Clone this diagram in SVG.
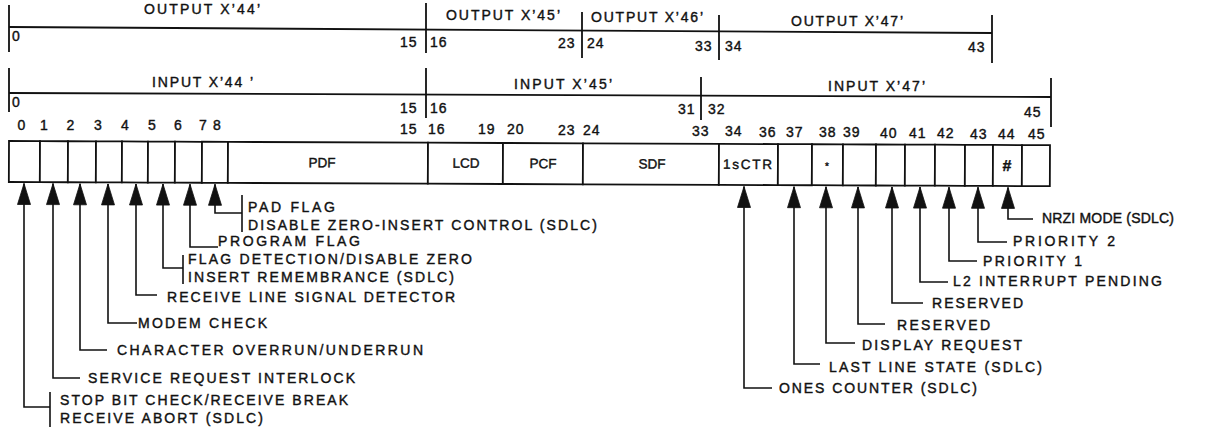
<svg xmlns="http://www.w3.org/2000/svg" width="1210" height="431" viewBox="0 0 1210 431">
<style>
.t{font-family:"Liberation Sans",Arial,sans-serif;fill:#111;stroke:#111;stroke-width:0.4}
.hd{font-size:14px}
.n{font-size:14px;letter-spacing:1px}
.d{font-size:14px;text-anchor:middle}
.l{font-size:14px}
.bx{font-size:13.5px;text-anchor:middle}
.box{fill:#fff;stroke:#111;stroke-width:1.8}
.rule{fill:none;stroke:#111;stroke-width:1.8}
.conn{fill:none;stroke:#111;stroke-width:1.6;marker-end:url(#ah)}
.brk{fill:none;stroke:#111;stroke-width:1.6}
</style>
<defs>
<marker id="ah" markerUnits="userSpaceOnUse" markerWidth="30" markerHeight="20" refX="0" refY="0" orient="auto" style="overflow:visible">
<path d="M0,0 L-21,-6.5 L-21,6.5 Z" fill="#111" stroke="#111" stroke-width="0.8" stroke-linejoin="round"/>
</marker>
</defs>
<rect width="1210" height="431" fill="#fff"/>

<g id="output-row">
<path class="rule" d="M9,27 L992,33"/>
<path class="rule" d="M9,5 V52 M426,3 V53 M582,12 V58 M719,15 V60 M992,15 V63"/>
<text class="t hd" x="144" y="14" textLength="116" lengthAdjust="spacing">OUTPUT X’44’</text>
<text class="t hd" x="446" y="20" textLength="114" lengthAdjust="spacing">OUTPUT X’45’</text>
<text class="t hd" x="591" y="22" textLength="112" lengthAdjust="spacing">OUTPUT X’46’</text>
<text class="t hd" x="791" y="26" textLength="112" lengthAdjust="spacing">OUTPUT X’47’</text>
<text class="t n" x="12" y="41">0</text>
<text class="t n" x="400" y="47">15</text>
<text class="t n" x="430" y="47">16</text>
<text class="t n" x="558" y="48">23</text>
<text class="t n" x="587" y="48">24</text>
<text class="t n" x="695" y="51">33</text>
<text class="t n" x="725" y="51">34</text>
<text class="t n" x="968" y="52">43</text>
</g>

<g id="input-row">
<path class="rule" d="M9,93 L1051,97"/>
<path class="rule" d="M9,68 V112 M426,68 V118 M701,77 V120 M1051,78 V127"/>
<text class="t hd" x="152" y="87" textLength="101" lengthAdjust="spacing">INPUT X’44 ’</text>
<text class="t hd" x="514" y="89" textLength="98" lengthAdjust="spacing">INPUT X’45’</text>
<text class="t hd" x="828" y="91" textLength="97" lengthAdjust="spacing">INPUT X’47’</text>
<text class="t n" x="12" y="107">0</text>
<text class="t n" x="400" y="113">15</text>
<text class="t n" x="430" y="113">16</text>
<text class="t n" x="678" y="114">31</text>
<text class="t n" x="708" y="114">32</text>
<text class="t n" x="1024" y="117">45</text>
</g>

<g id="bit-numbers">
<text class="t d" x="21.5" y="130">0</text>
<text class="t d" x="44" y="130">1</text>
<text class="t d" x="70.5" y="130">2</text>
<text class="t d" x="98" y="130">3</text>
<text class="t d" x="125" y="130">4</text>
<text class="t d" x="152" y="130">5</text>
<text class="t d" x="178" y="130">6</text>
<text class="t d" x="203" y="130">7</text>
<text class="t d" x="217" y="130">8</text>
<text class="t n" x="400" y="133.5">15</text>
<text class="t n" x="428" y="133.7">16</text>
<text class="t n" x="478" y="134.1">19</text>
<text class="t n" x="507" y="134.4">20</text>
<text class="t n" x="558" y="134.8">23</text>
<text class="t n" x="583" y="135">24</text>
<text class="t n" x="692" y="136">33</text>
<text class="t n" x="725" y="136.3">34</text>
<text class="t n" x="759" y="136.6">36</text>
<text class="t n" x="786" y="136.9">37</text>
<text class="t n" x="819" y="137.2">38</text>
<text class="t n" x="843" y="137.4">39</text>
<text class="t n" x="880" y="137.7">40</text>
<text class="t n" x="909" y="138">41</text>
<text class="t n" x="937" y="138.2">42</text>
<text class="t n" x="970" y="138.5">43</text>
<text class="t n" x="998" y="138.8">44</text>
<text class="t n" x="1028" y="139">45</text>
</g>

<g id="register" transform="rotate(0.23 9 141)">
<g id="bit-0"><rect class="box" x="9" y="141" width="31" height="41"/></g>
<g id="bit-1"><rect class="box" x="40" y="141" width="28" height="41"/></g>
<g id="bit-2"><rect class="box" x="68" y="141" width="28" height="41"/></g>
<g id="bit-3"><rect class="box" x="96" y="141" width="26" height="41"/></g>
<g id="bit-4"><rect class="box" x="122" y="141" width="26" height="41"/></g>
<g id="bit-5"><rect class="box" x="148" y="141" width="27" height="41"/></g>
<g id="bit-6"><rect class="box" x="175" y="141" width="27" height="41"/></g>
<g id="bit-7"><rect class="box" x="202" y="141" width="26" height="41"/></g>
<g id="pdf"><rect class="box" x="228" y="141" width="200" height="41"/><text class="t bx" x="322" y="166">PDF</text></g>
<g id="lcd"><rect class="box" x="428" y="141" width="75" height="41"/><text class="t bx" x="466" y="166">LCD</text></g>
<g id="pcf"><rect class="box" x="503" y="141" width="80" height="41"/><text class="t bx" x="543" y="166">PCF</text></g>
<g id="sdf"><rect class="box" x="583" y="141" width="136" height="41"/><text class="t bx" x="652" y="166">SDF</text></g>
<g id="ones-ctr"><rect class="box" x="719" y="141" width="59" height="41"/><text class="t l" x="723" y="166" style="font-size:13.5px" textLength="49" lengthAdjust="spacing">1sCTR</text></g>
<g id="bit-37"><rect class="box" x="778" y="141" width="34" height="41"/></g>
<g id="bit-38"><rect class="box" x="812" y="141" width="31" height="41"/><text class="t bx" x="827" y="166" style="font-size:10px">*</text></g>
<g id="bit-39"><rect class="box" x="843" y="141" width="33" height="41"/></g>
<g id="bit-40"><rect class="box" x="876" y="141" width="29" height="41"/></g>
<g id="bit-41"><rect class="box" x="905" y="141" width="30" height="41"/></g>
<g id="bit-42"><rect class="box" x="935" y="141" width="30" height="41"/></g>
<g id="bit-43"><rect class="box" x="965" y="141" width="28" height="41"/></g>
<g id="bit-44"><rect class="box" x="993" y="141" width="29" height="41"/><text class="t bx" x="1007" y="167" style="font-size:16px;font-weight:bold">#</text></g>
<g id="bit-45"><rect class="box" x="1022" y="141" width="28" height="41"/></g>
</g>

<g id="connectors">
<polyline class="conn" points="50,407 24,407 24,183.5"/>
<polyline class="conn" points="80,378 53,378 53,183.6"/>
<polyline class="conn" points="107,350 80,350 80,183.8"/>
<polyline class="conn" points="137,323 108,323 108,183.9"/>
<polyline class="conn" points="157,295 136,295 136,184"/>
<polyline class="conn" points="183,268 163,268 163,184.1"/>
<polyline class="conn" points="218,247 190,247 190,184.2"/>
<polyline class="conn" points="242,213 215,213 215,184.3"/>
<polyline class="conn" points="772,388 744,388 744,186.5"/>
<polyline class="conn" points="820,364 794,364 794,186.7"/>
<polyline class="conn" points="855,343 826,343 826,186.8"/>
<polyline class="conn" points="885,324 858,324 858,186.9"/>
<polyline class="conn" points="923,303 892,303 892,187"/>
<polyline class="conn" points="948,282 920,282 920,187.1"/>
<polyline class="conn" points="977,261 949,261 949,187.2"/>
<polyline class="conn" points="1007,242 978,242 978,187.3"/>
<polyline class="conn" points="1033,219 1008,219 1008,187.4"/>
<path class="brk" d="M242,195 V232 M183,255 V284 M50,392 V427"/>
</g>

<g id="label-bit-7"><text class="t l" x="248" y="212" textLength="87" lengthAdjust="spacing">PAD FLAG</text><text class="t l" x="248" y="230" textLength="349" lengthAdjust="spacing">DISABLE ZERO-INSERT CONTROL (SDLC)</text></g>
<g id="label-bit-6"><text class="t l" x="218" y="246" textLength="142" lengthAdjust="spacing">PROGRAM FLAG</text></g>
<g id="label-bit-5"><text class="t l" x="188" y="264" textLength="284" lengthAdjust="spacing">FLAG DETECTION/DISABLE ZERO</text><text class="t l" x="188" y="282" textLength="266" lengthAdjust="spacing">INSERT REMEMBRANCE (SDLC)</text></g>
<g id="label-bit-4"><text class="t l" x="167" y="302" textLength="288" lengthAdjust="spacing">RECEIVE LINE SIGNAL DETECTOR</text></g>
<g id="label-bit-3"><text class="t l" x="138" y="328" textLength="129" lengthAdjust="spacing">MODEM CHECK</text></g>
<g id="label-bit-2"><text class="t l" x="117" y="355" textLength="306" lengthAdjust="spacing">CHARACTER OVERRUN/UNDERRUN</text></g>
<g id="label-bit-1"><text class="t l" x="88" y="383" textLength="267" lengthAdjust="spacing">SERVICE REQUEST INTERLOCK</text></g>
<g id="label-bit-0"><text class="t l" x="60" y="405" textLength="288" lengthAdjust="spacing">STOP BIT CHECK/RECEIVE BREAK</text><text class="t l" x="60" y="423" textLength="203" lengthAdjust="spacing">RECEIVE ABORT (SDLC)</text></g>

<g id="label-bit-44"><text class="t l" x="1042" y="223" textLength="132" lengthAdjust="spacing">NRZI MODE (SDLC)</text></g>
<g id="label-bit-43"><text class="t l" x="1013" y="246" textLength="102" lengthAdjust="spacing">PRIORITY 2</text></g>
<g id="label-bit-42"><text class="t l" x="983" y="266" textLength="99" lengthAdjust="spacing">PRIORITY 1</text></g>
<g id="label-bit-41"><text class="t l" x="953" y="286" textLength="209" lengthAdjust="spacing">L2 INTERRUPT PENDING</text></g>
<g id="label-bit-40"><text class="t l" x="932" y="308" textLength="91" lengthAdjust="spacing">RESERVED</text></g>
<g id="label-bit-39"><text class="t l" x="897" y="330" textLength="93" lengthAdjust="spacing">RESERVED</text></g>
<g id="label-bit-38"><text class="t l" x="862" y="350" textLength="160" lengthAdjust="spacing">DISPLAY REQUEST</text></g>
<g id="label-bit-37"><text class="t l" x="829" y="372" textLength="213" lengthAdjust="spacing">LAST LINE STATE (SDLC)</text></g>
<g id="label-ones-ctr"><text class="t l" x="779" y="393" textLength="198" lengthAdjust="spacing">ONES COUNTER (SDLC)</text></g>
</svg>
